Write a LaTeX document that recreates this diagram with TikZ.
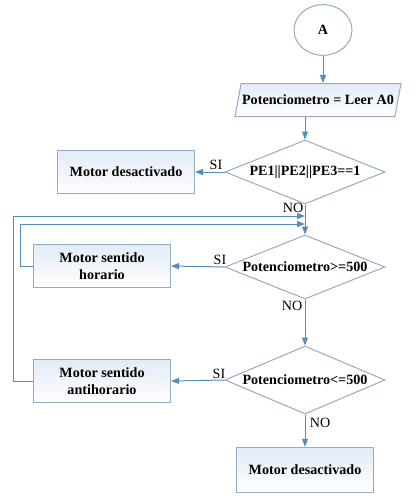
\documentclass[tikz,border=0pt]{standalone}
\usepackage{fontspec}
\setmainfont{Liberation Serif}
\usetikzlibrary{shapes.geometric,arrows.meta}

\definecolor{flowline}{RGB}{88,140,184}
\definecolor{flowedge}{RGB}{150,170,192}
\definecolor{flowfill}{RGB}{226,235,247}

\tikzset{every picture/.style={line width=0.75pt}}
\tikzset{
	flowbox/.style={draw=flowedge, top color=flowfill, bottom color=white, minimum width=102.75pt, minimum height=32.5pt, inner sep=0.75pt, align=center, font=\fontsize{10.6}{12.5}\selectfont\bfseries},
	flowdec/.style={diamond, draw=flowedge, fill=white, minimum width=120pt, minimum height=48pt, inner sep=0pt, aspect=2.5, font=\fontsize{10.6}{12.5}\selectfont\bfseries},
	flowio/.style={trapezium, trapezium left angle=63, trapezium right angle=117, trapezium stretches body, draw=flowedge, top color=flowfill, bottom color=white, minimum width=122pt, minimum height=24.75pt, inner sep=0.75pt, font=\fontsize{10.6}{12.5}\selectfont\bfseries},
	flowterm/.style={ellipse, draw=flowedge, fill=white, minimum width=43.5pt, minimum height=38pt, font=\fontsize{10.6}{12.5}\selectfont\bfseries},
	flowarrow/.style={draw=flowline, -{Triangle[length=6pt,width=4.5pt]}},
	flowlabel/.style={inner sep=0.75pt, font=\fontsize{10.6}{12.5}\selectfont}
}

\begin{document}
\begin{tikzpicture}[x=0.75pt,y=0.75pt,yscale=-1]
	\useasboundingbox (0,0) rectangle (420,496);
	
	%Flowchart: Connector
	\node [flowterm] (start) at (323,30) {A};
	%Flowchart: Data
	\node [flowio] (read) at (318,100) {Potenciometro = Leer A0};
	%Flowchart: Decision
	\node [flowdec] (pe) at (305,172) {PE1||PE2||PE3==1};
	%Flowchart: Process
	\node [flowbox] (off1) at (126,172) {Motor desactivado};
	%Flowchart: Decision
	\node [flowdec] (ge) at (305,267) {Potenciometro>=500};
	%Flowchart: Process
	\node [flowbox] (cw) at (102,266) {Motor sentido\\horario};
	%Flowchart: Decision
	\node [flowdec, minimum height=51pt] (le) at (305,380) {Potenciometro<=500};
	%Flowchart: Process
	\node [flowbox] (ccw) at (102,381) {Motor sentido\\antihorario};
	%Flowchart: Process
	\node [flowbox, minimum height=34pt] (off2) at (305,470) {Motor desactivado};
	
	%Return points on the main line
	\coordinate (joinA) at (305,216);
	\coordinate (joinB) at (305,224);
	\coordinate (cwTurn) at (20,266);
	\coordinate (ccwTurn) at (13,381);
	
	%Straight Lines
	\draw [flowarrow] (start) -- (start |- read.north);
	\draw [flowarrow] (read.south -| pe.north) -- (pe.north);
	\draw [flowarrow] (pe.west) -- (off1.east);
	\draw [flowarrow] (pe.south) -- (ge.north);
	\draw [flowarrow] (ge.west) -- (cw.east);
	\draw [flowarrow] (ge.south) -- (le.north);
	\draw [flowarrow] (le.west) -- (ccw.east);
	\draw [flowarrow] (le.south) -- (off2.north);
	%Loops back
	\draw [flowarrow] (cw.west) -- (cwTurn) -- (cwTurn |- joinB) -- (joinB);
	\draw [flowarrow] (ccw.west) -- (ccwTurn) -- (ccwTurn |- joinA) -- (joinA);
	
	% Text Node
	\node [flowlabel] (siA) at (216,165) {SI};
	% Text Node
	\node [flowlabel] (noA) at (293,208) {NO};
	% Text Node
	\node [flowlabel] (siB) at (220,260) {SI};
	% Text Node
	\node [flowlabel] (noB) at (292,306) {NO};
	% Text Node
	\node [flowlabel] (siC) at (219,374) {SI};
	% Text Node
	\node [flowlabel] (noC) at (320,423) {NO};
	
\end{tikzpicture}
\end{document}
